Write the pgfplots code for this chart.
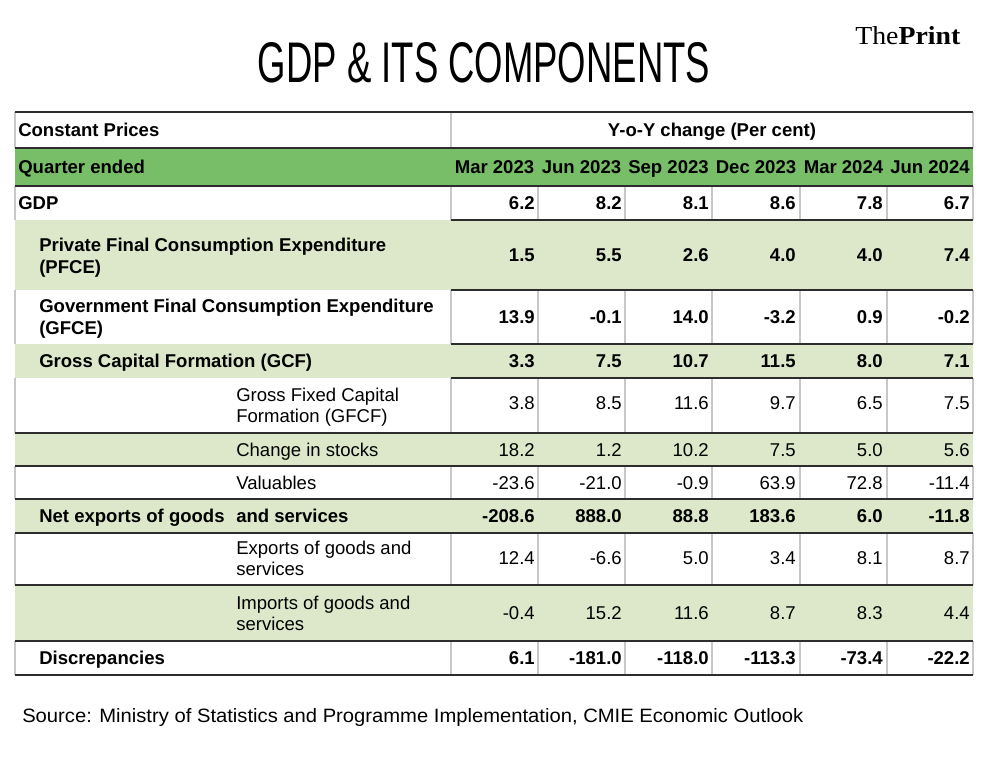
\documentclass[border=0pt]{standalone}
\usepackage{pgfplots}
\pgfplotsset{compat=1.18}
\usepackage{pgfplotstable}
\usepackage{fontspec}
\usepackage{graphicx}
\setmainfont{Liberation Sans}
\newfontfamily\seriffont{Liberation Serif}
\definecolor{hdr}{RGB}{120,190,105}
\definecolor{lgr}{RGB}{221,232,202}
\definecolor{vgray}{RGB}{200,200,200}
\definecolor{hline}{RGB}{45,45,45}
\newcommand\tf{\fontsize{13.9pt}{16pt}\selectfont}

% y = baseline (pixel rows, top-down); c1..c6 = Mar 2023 ... Jun 2024
\pgfplotstableread{
y c1 c2 c3 c4 c5 c6
209.5 6.2 8.2 8.1 8.6 7.8 6.7
261.5 1.5 5.5 2.6 4.0 4.0 7.4
323.5 13.9 -0.1 14.0 -3.2 0.9 -0.2
367.5 3.3 7.5 10.7 11.5 8.0 7.1
522.5 -208.6 888.0 88.8 183.6 6.0 -11.8
664.5 6.1 -181.0 -118.0 -113.3 -73.4 -22.2
}\boldtab
\pgfplotstableread{
y c1 c2 c3 c4 c5 c6
409.5 3.8 8.5 11.6 9.7 6.5 7.5
456.5 18.2 1.2 10.2 7.5 5.0 5.6
489.5 -23.6 -21.0 -0.9 63.9 72.8 -11.4
564.5 12.4 -6.6 5.0 3.4 8.1 8.7
619.5 -0.4 15.2 11.6 8.7 8.3 4.4
}\regtab

\begin{document}
\begin{tikzpicture}
\begin{axis}[x=0.75pt, y=0.75pt, scale only axis,
  xmin=0, xmax=989, ymin=0, ymax=762, y dir=reverse,
  hide axis, clip=false]
% page extent
\path (axis cs:0,0) rectangle (axis cs:989,762);
% row fills
\fill[hdr] (axis cs:15,148) rectangle (axis cs:973,186);
\fill[lgr] (axis cs:15,220) rectangle (axis cs:973,290);
\fill[lgr] (axis cs:15,344) rectangle (axis cs:973,378);
\fill[lgr] (axis cs:15,433) rectangle (axis cs:973,466);
\fill[lgr] (axis cs:15,499) rectangle (axis cs:973,533);
\fill[lgr] (axis cs:15,585) rectangle (axis cs:973,641);
% vertical grid lines
\draw[vgray, line width=1.1pt] (axis cs:15,112) -- (axis cs:15,148)
  (axis cs:451,112) -- (axis cs:451,148) (axis cs:973,112) -- (axis cs:973,148);
\pgfplotsinvokeforeach{15,451,538,625,712,800,887,973}{
  \draw[vgray, line width=1.1pt]
    (axis cs:#1,186) -- (axis cs:#1,220)
    (axis cs:#1,290) -- (axis cs:#1,344)
    (axis cs:#1,378) -- (axis cs:#1,433)
    (axis cs:#1,466) -- (axis cs:#1,499)
    (axis cs:#1,533) -- (axis cs:#1,585)
    (axis cs:#1,641) -- (axis cs:#1,675);
}
% horizontal rules
\pgfplotsinvokeforeach{112,148,186,433,466,499,533,585,641,675}{
  \draw[hline, line width=1.5pt] (axis cs:15,#1) -- (axis cs:973,#1);
}
\pgfplotsinvokeforeach{220,290,344,378}{
  \draw[hline, line width=1.5pt] (axis cs:451,#1) -- (axis cs:973,#1);
}
% numbers
\pgfplotsinvokeforeach{1,...,6}{
  \addplot[draw=none, mark=none, nodes near coords, point meta=explicit symbolic,
    nodes near coords style={anchor=base east, inner sep=0pt, font=\tf\bfseries}]
    table[x expr={448+87*#1}, y=y, meta=c#1] {\boldtab};
  \addplot[draw=none, mark=none, nodes near coords, point meta=explicit symbolic,
    nodes near coords style={anchor=base east, inner sep=0pt, font=\tf}]
    table[x expr={448+87*#1}, y=y, meta=c#1] {\regtab};
}
% header texts
\begin{scope}[every node/.style={inner sep=0pt, font=\tf\bfseries}]
\node[anchor=base west] at (axis cs:18,136.5) {Constant Prices};
\node[anchor=base] at (axis cs:712,136.5) {Y-o-Y change (Per cent)};
\node[anchor=base west] at (axis cs:18,173.5) {Quarter ended};
\node[anchor=base] at (axis cs:494.5,173.5) {Mar 2023};
\node[anchor=base] at (axis cs:581.5,173.5) {Jun 2023};
\node[anchor=base] at (axis cs:668.5,173.5) {Sep 2023};
\node[anchor=base] at (axis cs:756,173.5) {Dec 2023};
\node[anchor=base] at (axis cs:843.5,173.5) {Mar 2024};
\node[anchor=base] at (axis cs:930,173.5) {Jun 2024};
\node[anchor=base west] at (axis cs:18,209.5) {GDP};
\node[anchor=base west] at (axis cs:39,251.5) {Private Final Consumption Expenditure};
\node[anchor=base west] at (axis cs:39,273.5) {(PFCE)};
\node[anchor=base west] at (axis cs:39,312.5) {Government Final Consumption Expenditure};
\node[anchor=base west] at (axis cs:39,334.5) {(GFCE)};
\node[anchor=base west] at (axis cs:39,367.5) {Gross Capital Formation (GCF)};
\node[anchor=base west] at (axis cs:39,522.5) {Net exports of goods};
\node[anchor=base west] at (axis cs:236,522.5) {and services};
\node[anchor=base west] at (axis cs:39,664.5) {Discrepancies};
\end{scope}
\begin{scope}[every node/.style={inner sep=0pt, font=\tf, anchor=base west}]
\node at (axis cs:236,401.5) {Gross Fixed Capital};
\node at (axis cs:236,422.5) {Formation (GFCF)};
\node at (axis cs:236,456.5) {Change in stocks};
\node at (axis cs:236,489.5) {Valuables};
\node at (axis cs:236,554.5) {Exports of goods and};
\node at (axis cs:236,575.5) {services};
\node at (axis cs:236,609.5) {Imports of goods and};
\node at (axis cs:236,630.5) {services};
\end{scope}
% title, logo, source
\node[anchor=base, inner sep=0pt] at (axis cs:484,83)
  {\resizebox{339pt}{30pt}{GDP \& ITS COMPONENTS}};
\node[anchor=base west, inner sep=0pt] at (axis cs:855,45)
  {\resizebox{78.75pt}{13.5pt}{\seriffont The\textbf{Print}}};
\node[anchor=base west, inner sep=0pt] at (axis cs:22,722)
  {\resizebox{585.75pt}{10.5pt}{Source: Ministry of Statistics and Programme Implementation, CMIE Economic Outlook}};
\end{axis}
\end{tikzpicture}
\end{document}
